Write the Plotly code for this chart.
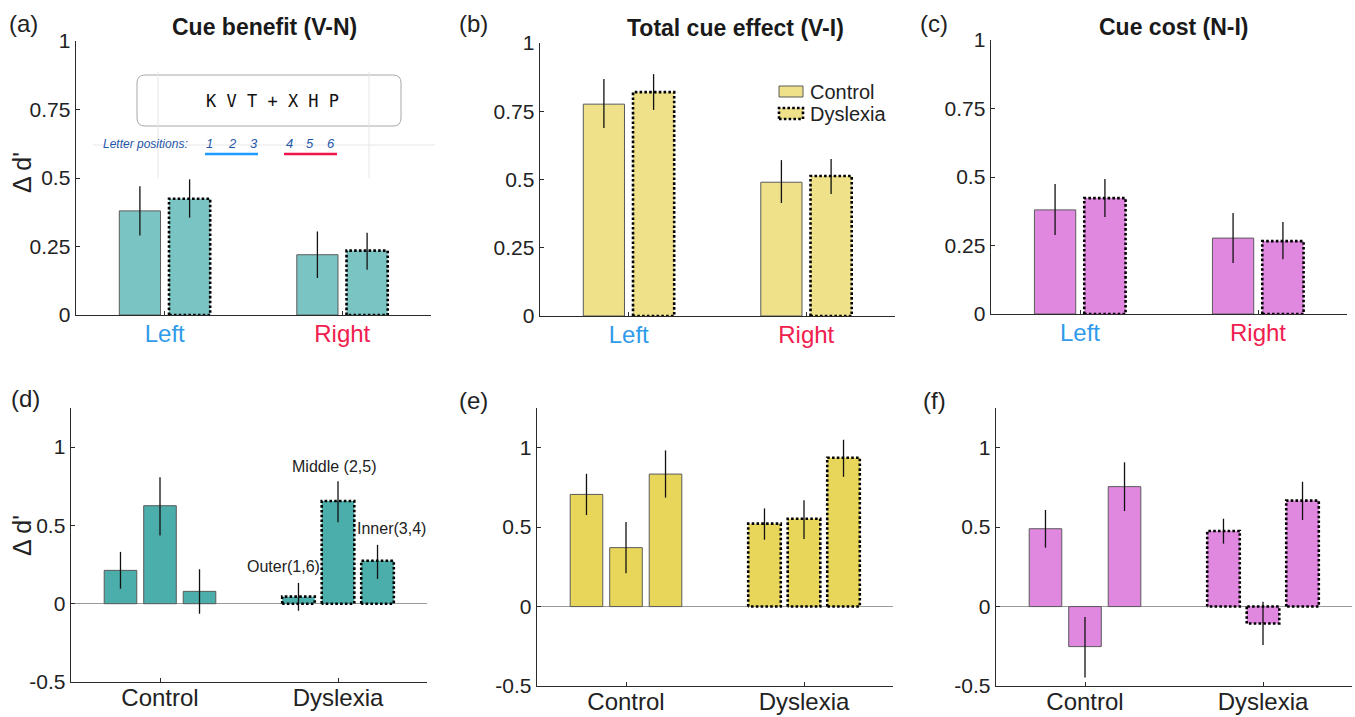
import plotly.graph_objects as go

W, H = 1355, 717

# ---------------- data ----------------
top_categories = ["Left", "Right"]
top_category_colors = ["#2F9BEA", "#F0204E"]
bottom_categories = ["Control", "Dyslexia"]
group_names = ["Control", "Dyslexia"]
position_labels = ["Outer(1,6)", "Middle (2,5)", "Inner(3,4)"]

y_ticks_top = [0, 0.25, 0.5, 0.75, 1]
y_ticktext_top = ["0", "0.25", "0.5", "0.75", "1"]
y_ticks_bottom = [-0.5, 0, 0.5, 1]
y_ticktext_bottom = ["-0.5", "0", "0.5", "1"]

# (a) Cue benefit (V-N): Left, Right
benefit_control = [0.38, 0.22]
benefit_control_lo = [0.29, 0.135]
benefit_control_hi = [0.47, 0.305]
benefit_dyslexia = [0.424, 0.235]
benefit_dyslexia_lo = [0.355, 0.165]
benefit_dyslexia_hi = [0.495, 0.30]

# (b) Total cue effect (V-I)
total_control = [0.776, 0.49]
total_control_lo = [0.689, 0.414]
total_control_hi = [0.868, 0.571]
total_dyslexia = [0.82, 0.513]
total_dyslexia_lo = [0.755, 0.447]
total_dyslexia_hi = [0.886, 0.575]

# (c) Cue cost (N-I)
cost_control = [0.38, 0.277]
cost_control_lo = [0.288, 0.186]
cost_control_hi = [0.474, 0.369]
cost_dyslexia = [0.423, 0.266]
cost_dyslexia_lo = [0.354, 0.20]
cost_dyslexia_hi = [0.493, 0.336]

# (d) benefit by letter position: Outer, Middle, Inner
pos_benefit_control = [0.213, 0.626, 0.079]
pos_benefit_control_lo = [0.096, 0.436, -0.064]
pos_benefit_control_hi = [0.331, 0.808, 0.22]
pos_benefit_dyslexia = [0.045, 0.656, 0.274]
pos_benefit_dyslexia_lo = [-0.045, 0.521, 0.158]
pos_benefit_dyslexia_hi = [0.133, 0.782, 0.376]

# (e) total effect by letter position
pos_total_control = [0.706, 0.371, 0.834]
pos_total_control_lo = [0.576, 0.209, 0.686]
pos_total_control_hi = [0.836, 0.532, 0.983]
pos_total_dyslexia = [0.522, 0.553, 0.937]
pos_total_dyslexia_lo = [0.421, 0.425, 0.817]
pos_total_dyslexia_hi = [0.618, 0.67, 1.05]

# (f) cost by letter position
pos_cost_control = [0.49, -0.252, 0.755]
pos_cost_control_lo = [0.371, -0.447, 0.601]
pos_cost_control_hi = [0.608, -0.065, 0.908]
pos_cost_dyslexia = [0.476, -0.107, 0.667]
pos_cost_dyslexia_lo = [0.396, -0.242, 0.545]
pos_cost_dyslexia_hi = [0.553, 0.031, 0.786]

# ---------------- style ----------------
FONT = "Liberation Sans, Arial, Helvetica, sans-serif"
TEAL_LIGHT = "#7AC5C3"
TEAL = "#4BAEAB"
YELLOW_LIGHT = "#EEE18A"
YELLOW = "#E8D65B"
PINK = "#E087E0"
AXIS = "#2b2b2b"
EDGE = "#5a5a5a"


def px(x):
    return x / W


def py(y):
    return 1 - y / H


# panel pixel boxes (left, right, top, bottom)
panels = {
    1: (76, 431, 41, 315),
    2: (540, 895, 43, 316),
    3: (991, 1347, 40, 314),
    4: (71, 427, 408, 682),
    5: (537, 893, 408, 686),
    6: (996, 1352, 408, 686),
}

fig = go.Figure()


def add_group(n, centers, means, lo, hi, color, dotted, bw):
    xa, ya = f"x{n}", f"y{n}"
    fig.add_trace(go.Bar(
        x=centers, y=means, width=bw, base=0,
        marker=dict(color=color, line=dict(color=EDGE, width=0 if dotted else 1)),
        error_y=dict(type="data", symmetric=False,
                     array=[h - m for h, m in zip(hi, means)],
                     arrayminus=[m - l for m, l in zip(means, lo)],
                     color="#111111", thickness=1.3, width=0),
        xaxis=xa, yaxis=ya, showlegend=False, hoverinfo="skip"))
    if dotted:
        ox, oy = [], []
        for c, m in zip(centers, means):
            ox += [c - bw / 2, c - bw / 2, c + bw / 2, c + bw / 2, c - bw / 2, None]
            oy += [0, m, m, 0, 0, None]
        fig.add_trace(go.Scatter(
            x=ox, y=oy, mode="lines",
            line=dict(color="#000000", width=2.6, dash="2.6px,2.2px"),
            xaxis=xa, yaxis=ya, showlegend=False, hoverinfo="skip"))


# top row: two groups (control, dyslexia) per side category
top_offsets = [-0.14, 0.14]
top_bw = 0.232
top_sets = [
    (1, TEAL_LIGHT, (benefit_control, benefit_control_lo, benefit_control_hi),
     (benefit_dyslexia, benefit_dyslexia_lo, benefit_dyslexia_hi)),
    (2, YELLOW_LIGHT, (total_control, total_control_lo, total_control_hi),
     (total_dyslexia, total_dyslexia_lo, total_dyslexia_hi)),
    (3, PINK, (cost_control, cost_control_lo, cost_control_hi),
     (cost_dyslexia, cost_dyslexia_lo, cost_dyslexia_hi)),
]
for n, col, ctrl, dys in top_sets:
    cats = list(range(1, len(top_categories) + 1))
    add_group(n, [c + top_offsets[0] for c in cats], *ctrl, col, False, top_bw)
    add_group(n, [c + top_offsets[1] for c in cats], *dys, col, True, top_bw)

# bottom row: three positions per group
pos_offsets = [-0.222, 0.0, 0.222]
pos_bw = 0.183
bottom_sets = [
    (4, TEAL, (pos_benefit_control, pos_benefit_control_lo, pos_benefit_control_hi),
     (pos_benefit_dyslexia, pos_benefit_dyslexia_lo, pos_benefit_dyslexia_hi)),
    (5, YELLOW, (pos_total_control, pos_total_control_lo, pos_total_control_hi),
     (pos_total_dyslexia, pos_total_dyslexia_lo, pos_total_dyslexia_hi)),
    (6, PINK, (pos_cost_control, pos_cost_control_lo, pos_cost_control_hi),
     (pos_cost_dyslexia, pos_cost_dyslexia_lo, pos_cost_dyslexia_hi)),
]
for n, col, ctrl, dys in bottom_sets:
    add_group(n, [1 + o for o in pos_offsets], *ctrl, col, False, pos_bw)
    add_group(n, [2 + o for o in pos_offsets], *dys, col, True, pos_bw)

# ---------------- axes ----------------
layout = dict(
    width=W, height=H, margin=dict(l=0, r=0, t=0, b=0, autoexpand=False),
    paper_bgcolor="white", plot_bgcolor="white",
    barmode="overlay", font=dict(family=FONT, color="#222"),
    showlegend=False,
)
for n, (l, r, t, b) in panels.items():
    top = n <= 3
    if top:
        ttext = [f"<span style='color:{c}'>{t_}</span>"
                 for t_, c in zip(top_categories, top_category_colors)]
    else:
        ttext = bottom_categories
    layout[f"xaxis{n}" if n > 1 else "xaxis"] = dict(
        domain=[px(l), px(r)], anchor=f"y{n}", range=[0.5, 2.5],
        tickvals=[1, 2], ticktext=ttext, ticks="inside", ticklen=4,
        tickcolor=AXIS, showline=True, linecolor=AXIS, linewidth=1.4,
        showgrid=False, zeroline=False,
        ticklabelstandoff=-3 if top else -6,
        tickfont=dict(size=24, family=FONT, color="#222"),
        fixedrange=True)
    layout[f"yaxis{n}" if n > 1 else "yaxis"] = dict(
        domain=[py(b), py(t)], anchor=f"x{n}",
        range=[0, 1] if top else [-0.5, 1.25],
        tickvals=y_ticks_top if top else y_ticks_bottom,
        ticktext=y_ticktext_top if top else y_ticktext_bottom,
        ticks="inside", ticklen=4, tickcolor=AXIS,
        showline=True, linecolor=AXIS, linewidth=1.4,
        showgrid=False, zeroline=not top, zerolinecolor="#9a9a9a",
        zerolinewidth=1,
        tickfont=dict(size=21, family=FONT, color="#222"),
        fixedrange=True)
fig.update_layout(**layout)

# ---------------- annotations ----------------
ann = []


def text(x, y, s, size, **kw):
    d = dict(x=px(x), y=py(y), xref="paper", yref="paper", text=s,
             showarrow=False, font=dict(size=size, family=kw.pop("family", FONT),
                                         color=kw.pop("color", "#222")),
             xanchor=kw.pop("xanchor", "center"), yanchor="middle")
    d.update(kw)
    ann.append(d)


# panel letters
for lab, x, y in [("(a)", 23, 23), ("(b)", 473, 23), ("(c)", 934, 23),
                  ("(d)", 25, 398), ("(e)", 473, 400), ("(f)", 934, 400)]:
    text(x, y, lab, 24)

# titles
text(264, 27, "<b>Cue benefit (V-N)</b>", 23, color="#1a1a1a")
text(735, 28, "<b>Total cue effect (V-I)</b>", 23, color="#1a1a1a")
text(1174, 27, "<b>Cue cost (N-I)</b>", 23, color="#1a1a1a")

# y titles
text(22, 172, "Δ d'", 25, textangle=-90)
text(22, 535, "Δ d'", 25, textangle=-90)

# position labels in (d) (data coordinates of panel d)
for lab, xd, yd in [(position_labels[0], 1.694, 0.237),
                    (position_labels[1], 1.98, 0.878),
                    (position_labels[2], 2.30, 0.48)]:
    ann.append(dict(x=xd, y=yd, xref="x4", yref="y4", text=lab, showarrow=False,
                    font=dict(size=16, family=FONT, color="#222"),
                    xanchor="center", yanchor="middle"))

# legend in (b)
text(808, 92, group_names[0], 20, xanchor="left")
text(808, 114, group_names[1], 20, xanchor="left")

# inset in (a)
text(272, 101, "K V T + X H P", 17, family="DejaVu Sans Mono, monospace", color="#111")
text(145, 144, "<i>Letter positions:</i>", 12, color="#1F57A8")
for d_, x in zip(["1", "2", "3", "4", "5", "6"], [209, 232, 254, 289, 310, 331]):
    text(x, 143, f"<i>{d_}</i>", 13, color="#1F57A8")

shapes = []


def rounded_rect(x0, y0, x1, y1, r):
    rx, ry = r / W, r / H
    X0, X1, Y0, Y1 = px(x0), px(x1), py(y0), py(y1)
    return (f"M {X0+rx},{Y0} L {X1-rx},{Y0} Q {X1},{Y0} {X1},{Y0-ry} "
            f"L {X1},{Y1+ry} Q {X1},{Y1} {X1-rx},{Y1} L {X0+rx},{Y1} "
            f"Q {X0},{Y1} {X0},{Y1+ry} L {X0},{Y0-ry} Q {X0},{Y0} {X0+rx},{Y0} Z")


shapes.append(dict(type="path", xref="paper", yref="paper",
                   path=rounded_rect(137, 75, 401, 126, 8),
                   fillcolor="white", line=dict(color="#a8a8a8", width=1)))
# faint guide lines of the inset graphic
for x0, y0, x1, y1 in [(93, 145, 435, 145), (158, 72, 158, 178), (369, 72, 369, 178)]:
    shapes.append(dict(type="line", xref="paper", yref="paper",
                       x0=px(x0), y0=py(y0), x1=px(x1), y1=py(y1),
                       line=dict(color="#e6e6e6", width=1)))
shapes.append(dict(type="line", xref="paper", yref="paper",
                   x0=px(205), y0=py(154), x1=px(258), y1=py(154),
                   line=dict(color="#1E9BFF", width=2.5)))
shapes.append(dict(type="line", xref="paper", yref="paper",
                   x0=px(284), y0=py(154), x1=px(337), y1=py(154),
                   line=dict(color="#F0144A", width=2.5)))

# legend swatches
shapes.append(dict(type="rect", xref="paper", yref="paper",
                   x0=px(779), x1=px(803), y0=py(97), y1=py(86),
                   fillcolor=YELLOW_LIGHT, line=dict(color=EDGE, width=1)))
shapes.append(dict(type="rect", xref="paper", yref="paper",
                   x0=px(779), x1=px(803), y0=py(119), y1=py(108),
                   fillcolor=YELLOW_LIGHT,
                   line=dict(color="#000", width=2.6, dash="2.6px,2.2px")))

fig.update_layout(annotations=ann, shapes=shapes)

# pin the figure to the top-left corner of the page so it fills the window exactly
pin_js = (
    "document.documentElement.style.margin='0';"
    "document.body.style.margin='0';"
    "document.documentElement.style.overflow='hidden';"
    "var gd=document.getElementById('{plot_id}');"
    "gd.style.position='fixed';gd.style.left='0px';gd.style.top='0px';"
)

fig.write_html("out.html", post_script=pin_js,
               config={"displayModeBar": False, "staticPlot": True})
